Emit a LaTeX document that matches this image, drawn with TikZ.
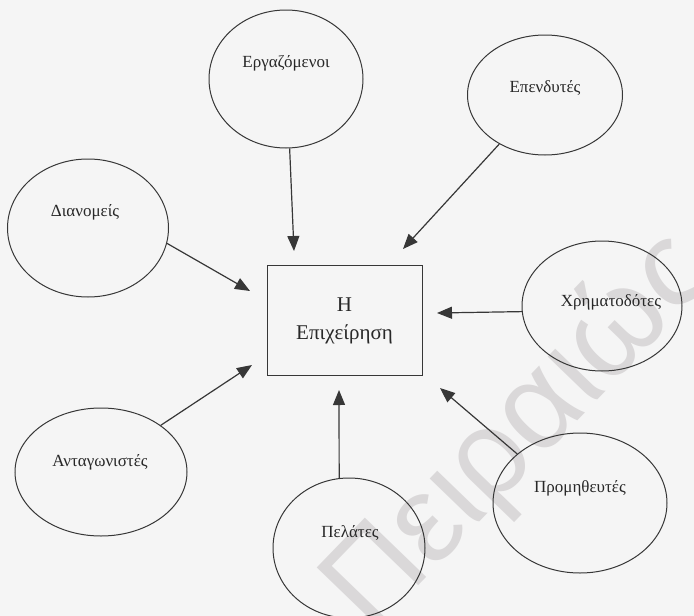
\documentclass[tikz,border=0pt]{standalone}
\usepackage{fontspec}
\setmainfont{Liberation Serif}
\newfontfamily\wmfont{Liberation Sans}
\usetikzlibrary{shapes.geometric,arrows.meta}
\definecolor{paper}{RGB}{245,245,245}
\definecolor{ink}{RGB}{55,55,55}
\definecolor{textink}{RGB}{40,40,40}
\definecolor{wmark}{RGB}{218,216,217}

\begin{document}
\begin{tikzpicture}[x=1pt,y=-1pt,
  ell/.style={ellipse, draw=ink, line width=1pt, inner sep=0pt},
  lbl/.style={text=textink, font=\fontsize{17}{20}\selectfont, inner sep=0pt},
  firm/.style={draw=ink, line width=1pt, minimum width=155pt, minimum height=110pt,
    align=center, text=textink, font=\fontsize{21}{28}\selectfont},
  arr/.style={draw=ink, line width=1.2pt, -{Triangle[length=15pt,width=12pt]}},
  wm/.style={text=wmark, font=\wmfont\fontsize{124}{124}\selectfont, inner sep=0pt}
]
% page
\fill[paper] (0,0) rectangle (694,616);
\useasboundingbox (0,0) rectangle (694,616);

% watermark
\node[wm, rotate=46] (wmk) at (520,432) {Πειραιώς};

% central box
\node[firm] (firm) at (344.5,320.5) {Η\\Επιχείρηση};

% stakeholders
\node[ell, minimum width=154pt, minimum height=138pt] (erg) at (286,79) {};
\node[ell, minimum width=155pt, minimum height=120pt] (inv) at (545,95) {};
\node[ell, minimum width=161pt, minimum height=138pt] (dist) at (88,228) {};
\node[ell, minimum width=160pt, minimum height=130pt] (fin) at (602,306) {};
\node[ell, minimum width=172pt, minimum height=128pt] (comp) at (101,472) {};
\node[ell, minimum width=152pt, minimum height=140pt] (cust) at (349,548) {};
\node[ell, minimum width=174pt, minimum height=140pt] (sup) at (580,503) {};

\node[lbl] (erg-t)  at (286,63)  {Εργαζόμενοι};
\node[lbl] (inv-t)  at (545,88)  {Επενδυτές};
\node[lbl] (dist-t) at (85,212)  {Διανομείς};
\node[lbl] (fin-t)  at (611,302) {Χρηματοδότες};
\node[lbl] (comp-t) at (100,462) {Ανταγωνιστές};
\node[lbl] (cust-t) at (350,533) {Πελάτες};
\node[lbl] (sup-t)  at (580,488) {Προμηθευτές};

% arrow tips in front of the box
\coordinate (t-erg)  at (294,251);
\coordinate (t-inv)  at (403,249);
\coordinate (t-dist) at (250,291);
\coordinate (t-fin)  at (437,313);
\coordinate (t-comp) at (252,365);
\coordinate (t-cust) at (339,390);
\coordinate (t-sup)  at (440,388);

\draw[arr] (erg.-87)  -- (t-erg);
\draw[arr] (inv.227)  -- (t-inv);
\draw[arr] (dist.-11) -- (t-dist);
\draw[arr] (fin.184)  -- (t-fin);
\draw[arr] (comp.38)  -- (t-comp);
\draw[arr] (cust.98)  -- (t-cust);
\draw[arr] (sup.142)  -- (t-sup);
\end{tikzpicture}
\end{document}
